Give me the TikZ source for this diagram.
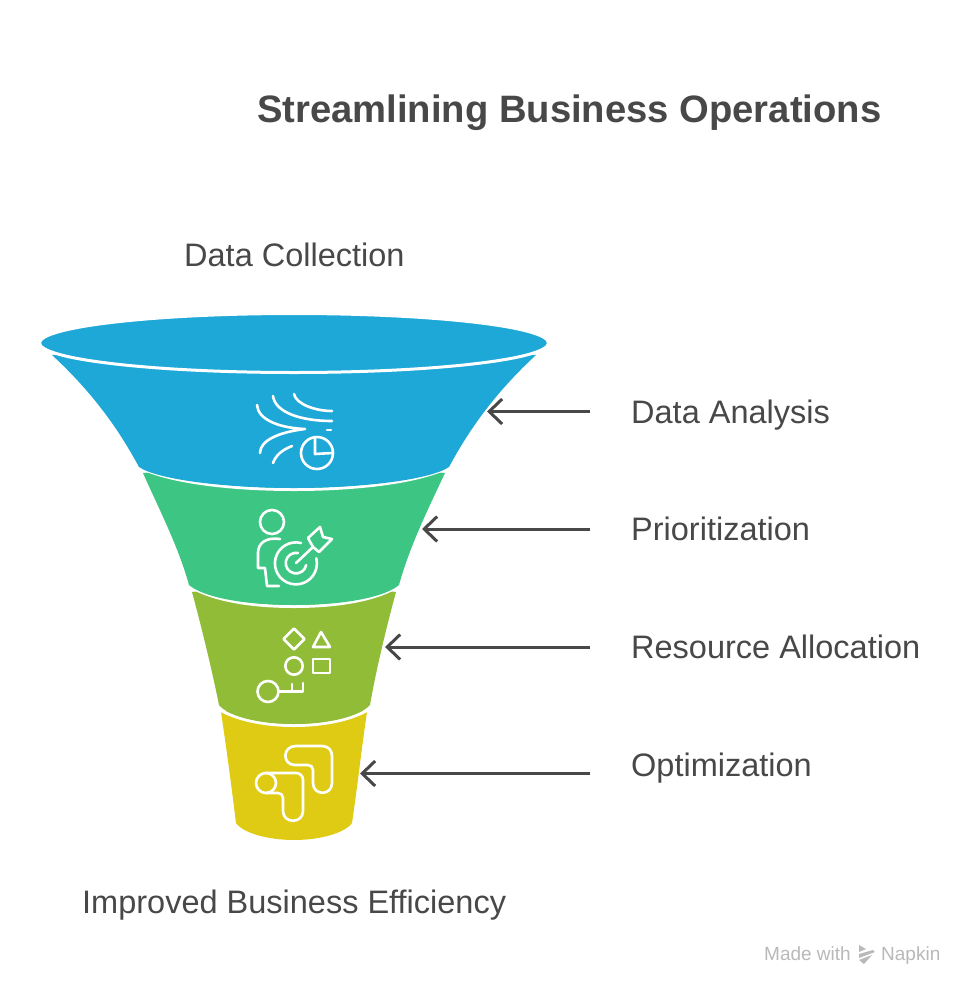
\documentclass[tikz,border=0pt]{standalone}
\usepackage{fontspec}
\setmainfont{Liberation Sans}
\usetikzlibrary{arrows.meta}
\definecolor{cblue}{HTML}{1DA8D8}
\definecolor{cgreen}{HTML}{3DC583}
\definecolor{colive}{HTML}{90BC38}
\definecolor{cyellow}{HTML}{E0CB14}
\definecolor{ctext}{HTML}{484848}
\definecolor{cmark}{HTML}{B9B9B9}
\tikzset{
  lbl/.style={text=ctext,font=\fontsize{32.5}{38}\selectfont,inner sep=0pt,anchor=base west},
  ttl/.style={text=ctext,font=\fontsize{38.2}{44}\selectfont\bfseries,inner sep=0pt,anchor=base west},
  wmtext/.style={text=cmark,font=\fontsize{19}{22}\selectfont,inner sep=0pt,anchor=base west},
  pointer/.style={draw=ctext,line width=3pt,-{Straight Barb[length=13pt,width=25pt,line width=3pt]}},
  ico/.style={draw=white,line width=2.6pt,line cap=round,line join=round},
  gap/.style={draw=white,line width=3pt},
}
\begin{document}
\begin{tikzpicture}[x=1pt,y=-1pt]
\useasboundingbox (0,0) rectangle (980,999);
\fill[white] (0,0) rectangle (980,999);
% funnel: lowest segment first, so each white edge lies over the one below
\fill[cyellow] (221,712) -- (294,700) -- (367,712)
  .. controls (362,745) and (357,790) .. (352,823)
  .. controls (345,833) and (320,840) .. (294,840)
  .. controls (268,840) and (243,833) .. (236,823)
  .. controls (232,790) and (226,745) .. (221,712) -- cycle;
\draw[gap] (215,707) .. controls (235,720) and (265,725.5) .. (294,725.5) .. controls (323,725.5) and (353,720) .. (373,707);
\fill[colive] (192,592) -- (294,580) -- (396,592)
  .. controls (387,625) and (376,670) .. (370,705)
  .. controls (360,716) and (330,724) .. (294,724)
  .. controls (258,724) and (228,716) .. (219,705)
  .. controls (212,670) and (201,625) .. (192,592) -- cycle;
\draw[gap] (186,584) .. controls (210,600) and (250,606.5) .. (294,606.5) .. controls (338,606.5) and (378,600) .. (402,584);
\fill[cgreen] (143,473) -- (294,460) -- (445,473)
  .. controls (430,505) and (410,545) .. (399,585)
  .. controls (385,597) and (345,605) .. (294,605)
  .. controls (243,605) and (203,597) .. (189,585)
  .. controls (178,545) and (157,505) .. (143,473) -- cycle;
\draw[gap] (135,465) .. controls (165,482) and (230,489.5) .. (294,489.5) .. controls (358,489.5) and (423,482) .. (453,465);
\fill[cblue] (52,355) -- (294,345) -- (536,355)
  .. controls (496,392) and (470,428) .. (449,467)
  .. controls (430,480) and (360,488) .. (294,488)
  .. controls (228,488) and (158,480) .. (139,467)
  .. controls (118,428) and (92,392) .. (52,355) -- cycle;
\filldraw[fill=cblue,gap] (294,343) ellipse [x radius=254.5, y radius=29.5];
% data icon
\begin{scope}[ico]
 \draw (257,405) .. controls (258,420) and (280,428) .. (305,429) .. controls (280,432) and (260,440) .. (260,453);
 \draw (273,396) .. controls (275,412) and (300,421) .. (332,421);
 \draw (294,394) .. controls (296,404) and (315,411) .. (332,411);
 \draw (273,463) .. controls (276,455) and (282,450) .. (292,446);
 \draw (327,430) -- (331,430);
 \draw (317,453) circle (16);
 \draw (315,438) -- (315,454) -- (332,453);
\end{scope}
% target icon
\begin{scope}[ico]
 \draw (272,522) circle (12);
 \draw (280,539) .. controls (266,537) and (258,543) .. (258,553) -- (258,568) -- (265,568) -- (267,586) -- (279,586);
 \draw (301,543) arc [start angle=76,end angle=374,radius=21pt];
 \draw (298,553) arc [start angle=79,end angle=349,radius=10.3pt];
 \draw (296,563) -- (313,547);
 \draw (313,547) -- (308,538) -- (320,527) -- (323,537) -- (332,539) -- (319,552) -- cycle;
\end{scope}
% shapes icon
\begin{scope}[ico]
 \draw (294,628.5) -- (304.5,639) -- (294,649.5) -- (283.5,639) -- cycle;
 \draw (321,632) -- (330,647) -- (313,647) -- cycle;
 \draw (294,666) circle (8.7);
 \draw (313,659) rectangle (330,673);
 \draw (268,691.5) circle (10.5);
 \draw (278.5,691.5) -- (303,691.5) -- (303,683);
 \draw (292,691.5) -- (292,684);
\end{scope}
% paths icon
\begin{scope}[ico]
 \draw (296,746) -- (322,746) .. controls (328,746) and (332,750) .. (332,756) -- (332,783)
   .. controls (332,796) and (313,796) .. (313,783) -- (313,770) .. controls (313,767) and (311,765) .. (308,765) -- (295,765)
   .. controls (282,765) and (282,746) .. (296,746) -- cycle;
 \draw (266,773) -- (296,773) .. controls (300,773) and (303,776) .. (303,780) -- (303,811)
   .. controls (303,824) and (283,824) .. (283,811) -- (283,798) .. controls (283,795) and (281,793) .. (278,793) -- (266,793);
 \draw (266,783) circle (10);
\end{scope}
% texts
\node[ttl] (title) at (257,122) {Streamlining Business Operations};
\node[lbl] (top) at (184,266) {Data Collection};
\node[lbl] (l1) at (631,423) {Data Analysis};
\node[lbl] (l2) at (631,540) {Prioritization};
\node[lbl] (l3) at (631,658) {Resource Allocation};
\node[lbl] (l4) at (631,776) {Optimization};
\node[lbl] (bottom) at (82,913) {Improved Business Efficiency};
\coordinate (t1) at (487,411.5);
\coordinate (t2) at (422,529);
\coordinate (t3) at (385,647);
\coordinate (t4) at (360,773.5);
\coordinate (s1) at (590,411.5);
\coordinate (s2) at (590,529);
\coordinate (s3) at (590,647);
\coordinate (s4) at (590,773.5);
\draw[pointer] (s1) -- (t1);
\draw[pointer] (s2) -- (t2);
\draw[pointer] (s3) -- (t3);
\draw[pointer] (s4) -- (t4);
% watermark
\node[wmtext] (made) at (764,960) {Made with};
\node[wmtext] (napkin) at (881,960) {Napkin};
\fill[cmark] (859,945) -- (866,949) -- (859,952) -- cycle;
\fill[cmark] (859,954) -- (873,950) -- (875,952) -- (859,958) -- cycle;
\fill[cmark] (859,960) -- (872,955) -- (864,964) -- cycle;
\end{tikzpicture}
\end{document}
